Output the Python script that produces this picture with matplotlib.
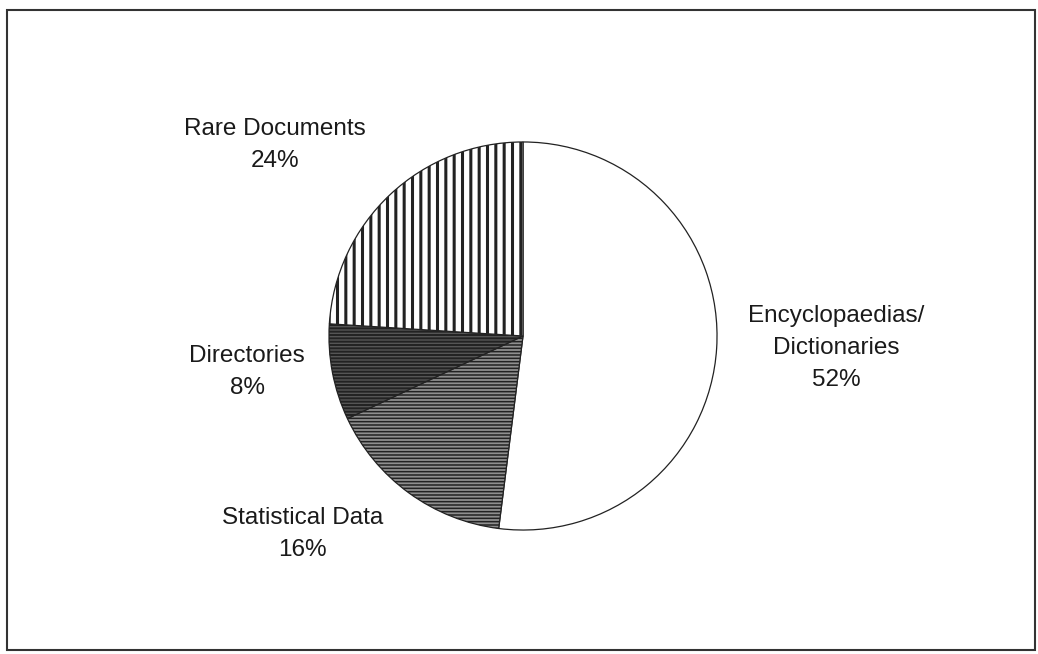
import matplotlib
matplotlib.use("Agg")
import matplotlib.pyplot as plt
from matplotlib.patches import Rectangle

plt.rcParams['font.family'] = ['Liberation Sans', 'DejaVu Sans']
plt.rcParams['hatch.linewidth'] = 2.0

# share of each source, clockwise from 12 o'clock
categories = ["Encyclopaedias/\nDictionaries", "Statistical Data", "Directories", "Rare Documents"]
shares = [52, 16, 8, 24]

# label anchors in pie units (radius = 1)
label_pos = [(1.615, -0.062), (-1.138, -1.021), (-1.421, -0.185), (-1.277, 0.985)]

faces = ["white", "#8f8f8f", "#555555", "white"]
hatches = [None, "-----", "-----", "||"]
hatch_lw = [None, 1.1, 1.4, 2.2]

fig = plt.figure(figsize=(10.38, 6.54), dpi=100)

# pie centre at (523, 336) px, radius 195 px
cx, cy, r = 523, 336, 195
W, H = 1038, 654
ax = fig.add_axes([(cx - r) / W, (H - cy - r) / H, 2 * r / W, 2 * r / H])

wedges, _ = ax.pie(shares, startangle=90, counterclock=False, radius=1,
                   colors=faces, wedgeprops=dict(edgecolor="#222222", linewidth=0.9))
for w, h, lw in zip(wedges, hatches, hatch_lw):
    if h:
        w.set_hatch(h)
        if hasattr(w, "set_hatch_linewidth"):
            w.set_hatch_linewidth(lw)

ax.set_xlim(-1.005, 1.005)
ax.set_ylim(-1.005, 1.005)
ax.set_aspect("equal")
ax.axis("off")

for name, val, (x, y) in zip(categories, shares, label_pos):
    ax.text(x, y, f"{name}\n{val}%", ha="center", va="center", fontsize=17.5,
            color="#1a1a1a", linespacing=1.6, clip_on=False)

# outer frame
fig.patches.append(Rectangle((7 / W, 1 - 650 / H), (1035 - 7) / W, (650 - 10) / H,
                             transform=fig.transFigure, fill=False,
                             edgecolor="#333333", linewidth=1.5))

fig.savefig("out.png", dpi=100)
